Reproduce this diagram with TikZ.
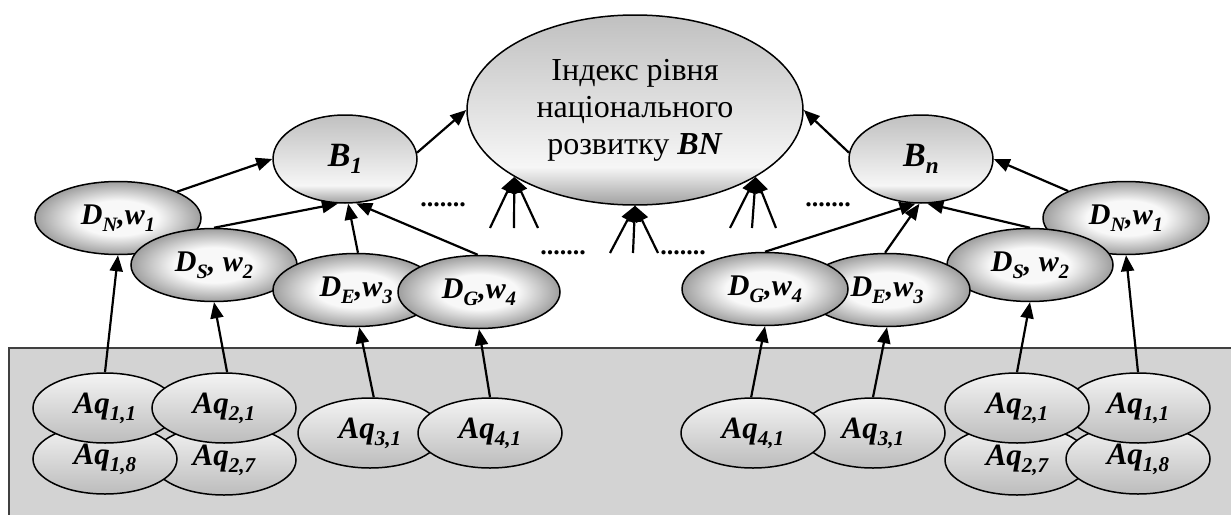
\documentclass[tikz,border=0pt]{standalone}
\usepackage{fontspec}
\setmainfont{Liberation Serif}
\usepackage{graphicx}
\usetikzlibrary{shapes.geometric,arrows.meta}

\definecolor{panelfill}{HTML}{D3D3D3}
\definecolor{paneledge}{HTML}{404040}
\definecolor{ovaltop}{HTML}{C0C0C0}
\definecolor{ovallight}{HTML}{F6F6F6}
\definecolor{ovalbot}{HTML}{A0A0A0}
\definecolor{dmid}{HTML}{F8F8F8}
\definecolor{dedge}{HTML}{9E9E9E}
\definecolor{aqtop}{HTML}{F4F4F4}
\definecolor{aqbot}{HTML}{BCBCBC}

% light band just above the lower edge of the index ovals
\pgfdeclareverticalshading{indexshade}{100bp}{%
  color(0bp)=(ovalbot); color(25bp)=(ovalbot); color(35bp)=(ovallight);
  color(75bp)=(ovaltop); color(100bp)=(ovaltop)}
% bright core for the dimension ovals
\pgfdeclareradialshading{dimshade}{\pgfpoint{0bp}{0bp}}{%
  color(0bp)=(dmid); color(12bp)=(dmid); color(25bp)=(dedge); color(50bp)=(dedge)}

% lowered, reduced-size index
\newcommand\lowsub[1]{\raisebox{-0.22em}{\scalebox{0.68}{#1}}}

\begin{document}
\begin{tikzpicture}[x=1pt,y=-1pt,
  oval/.style={ellipse, draw=black, line width=1.5pt, inner sep=0pt},
  topnode/.style={oval, shade, shading=indexshade},
  bnode/.style={topnode, minimum width=144pt, minimum height=88pt,
    font=\fontsize{34}{34}\selectfont\bfseries\itshape},
  dnode/.style={oval, shade, shading=dimshade,
    minimum width=166pt, minimum height=73pt,
    font=\fontsize{30}{30}\selectfont\bfseries\itshape},
  aqnode/.style={oval, top color=aqtop, bottom color=aqbot,
    minimum width=144pt, minimum height=70pt,
    font=\fontsize{31}{31}\selectfont\bfseries\itshape},
  link/.style={line width=2.2pt, -{Triangle[length=16pt,width=13pt]}},
  dots/.style={inner sep=0pt, font=\fontsize{26}{26}\selectfont\bfseries}
]
\path[use as bounding box] (0,0) rectangle (1231,514);

% grey panel holding the indicator ovals
\begin{scope}
  \clip (0,0) rectangle (1231,514);
  \draw[fill=panelfill, draw=paneledge, line width=1.5pt] (9,348) rectangle (1240,525);
\end{scope}

% top level
\node[topnode, minimum width=336pt, minimum height=190pt, align=center,
  font=\fontsize{32}{37}\selectfont] (BN) at (635,110)
  {Індекс рівня\\національного\\розвитку \textbf{\textit{BN}}};
\node[bnode] (B1) at (345,159) {B\lowsub{1}};
\node[bnode] (Bn) at (921,159) {B\lowsub{n}};

% dimensions, left group
\node[dnode] (DNL) at (118,218) {D\lowsub{N},w\lowsub{1}};
\node[dnode] (DSL) at (214,265) {D\lowsub{S}, w\lowsub{2}};
\node[dnode] (DEL) at (356,290) {D\lowsub{E},w\lowsub{3}};
\node[dnode, minimum width=162pt] (DGL) at (479,292) {D\lowsub{G},w\lowsub{4}};

% dimensions, right group
\node[dnode] (DNR) at (1126,218) {D\lowsub{N},w\lowsub{1}};
\node[dnode] (DSR) at (1030,265) {D\lowsub{S}, w\lowsub{2}};
\node[dnode] (DER) at (887,290) {D\lowsub{E},w\lowsub{3}};
\node[dnode] (DGR) at (765,289) {D\lowsub{G},w\lowsub{4}};

% indicators, left group
\node[aqnode] (AqLb) at (224,460) {Aq\lowsub{2,7}};
\node[aqnode] (AqLa) at (105,459) {Aq\lowsub{1,8}};
\node[aqnode] (AqL11) at (105,408) {Aq\lowsub{1,1}};
\node[aqnode] (AqL21) at (224,408) {Aq\lowsub{2,1}};
\node[aqnode] (AqL31) at (370,433) {Aq\lowsub{3,1}};
\node[aqnode] (AqL41) at (490,433) {Aq\lowsub{4,1}};

% indicators, right group
\node[aqnode] (AqRb) at (1017,460) {Aq\lowsub{2,7}};
\node[aqnode] (AqRa) at (1138,459) {Aq\lowsub{1,8}};
\node[aqnode] (AqR11) at (1138,408) {Aq\lowsub{1,1}};
\node[aqnode] (AqR21) at (1017,408) {Aq\lowsub{2,1}};
\node[aqnode] (AqR31) at (873,433) {Aq\lowsub{3,1}};
\node[aqnode] (AqR41) at (753,433) {Aq\lowsub{4,1}};

% ellipsis marks
\node[dots] (e1) at (443,205) {.......};
\node[dots] (e2) at (563,253) {.......};
\node[dots] (e3) at (683,253) {.......};
\node[dots] (e4) at (828,205) {.......};

% free ends of the unnamed inputs
\coordinate (f1a) at (490,228); \coordinate (f1b) at (514,228); \coordinate (f1c) at (538,228);
\coordinate (f2a) at (610,253); \coordinate (f2b) at (633,253); \coordinate (f2c) at (658,253);
\coordinate (f3a) at (730,228); \coordinate (f3b) at (752,228); \coordinate (f3c) at (776,228);

% indicators to dimensions
\draw[link] (AqL11.north) -- (DNL.south);
\draw[link] (AqL21.85) -- (DSL.south);
\draw[link] (AqL31.84) -- (DEL.275);
\draw[link] (AqL41.north) -- (DGL.south);
\draw[link] (AqR41.93) -- (DGR.south);
\draw[link] (AqR31.north) -- (DER.south);
\draw[link] (AqR21.north) -- (DSR.south);
\draw[link] (AqR11.north) -- (DNR.south);

% dimensions to sub-indices
\draw[link] (DNL.24) -- (B1.west);
\draw[link] (DSL.north) -- (B1.261);
\draw[link] (DEL.87) -- (B1.274);
\draw[link] (DGL.92) -- (B1.284);
\draw[link] (DNR.155) -- (Bn.east);
\draw[link] (DSR.north) -- (Bn.278);
\draw[link] (DER.93) -- (Bn.268);
\draw[link] (DGR.north) -- (Bn.263);

% sub-indices to the overall index
\draw[link] (B1.5) -- (BN.west);
\draw[link] (Bn.175) -- (BN.east);

% further inputs
\foreach \s in {a,b,c} {
  \draw[link] (f1\s) -- (BN.209);
  \draw[link] (f2\s) -- (BN.south);
  \draw[link] (f3\s) -- (BN.331);
}
\end{tikzpicture}
\end{document}
